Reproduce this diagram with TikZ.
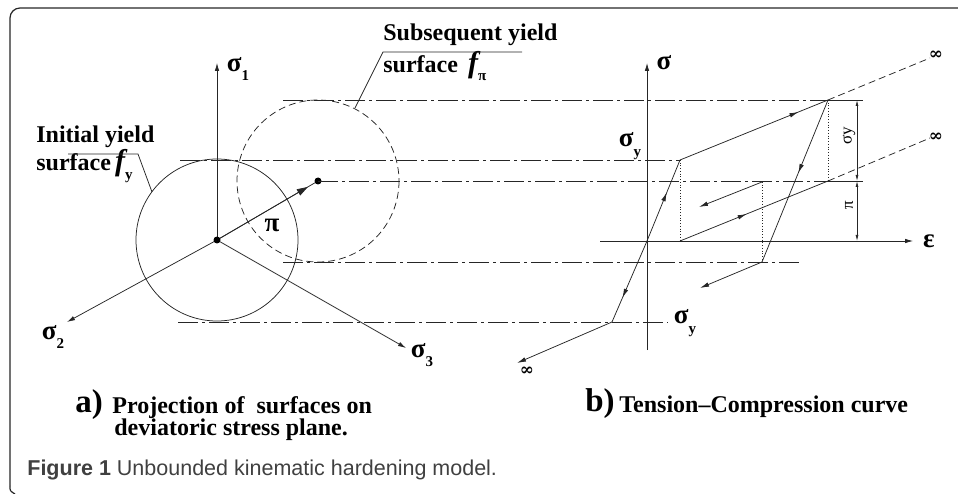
\documentclass[tikz,border=0pt]{standalone}
\usepackage{fontspec}
\setmainfont{Liberation Serif}
\setsansfont{Liberation Sans}
\newfontfamily\inffont{DejaVu Serif}
\usetikzlibrary{positioning, arrows.meta, calc, decorations.markings}

\newcommand{\subtxt}[1]{\raisebox{-0.35em}{\fontsize{15}{15}\selectfont #1}}

\begin{document}
\begin{tikzpicture}[
  x=1pt, y=-1pt,
  line width=0.75pt, draw=black!85,
  every node/.style={inner sep=0pt},
  lbl/.style={font=\fontsize{24}{26}\selectfont\bfseries},
  sym/.style={font=\fontsize{27}{27}\selectfont\bfseries},
  dimlbl/.style={font=\fontsize{17}{17}\selectfont, rotate=90},
  inf/.style={font=\inffont\fontsize{17}{17}\selectfont\bfseries},
  axis/.style={-{Latex[length=8pt,width=4.5pt]}},
  tip/.style={-{Latex[length=9pt,width=4.5pt]}},
  dashdot/.style={dash pattern=on 20pt off 4pt on 3pt off 4pt},
  midarrow/.style={postaction={decorate}, decoration={markings, mark=at position #1 with {\arrow{Latex[length=9pt,width=4.5pt]}}}},
  dimline/.style={{Latex[length=6pt,width=3pt]}-{Latex[length=6pt,width=3pt]}}
]
\useasboundingbox (0,0) rectangle (958,494);

% frame
\draw[line width=1.2pt, rounded corners=10pt] (958,8) -- (10,8) -- (10,486);
\draw[line width=1.2pt] (10,486) .. controls (10,491) .. (15,494);

% ---- a) deviatoric plane ----
\coordinate (O) at (217,240);
\coordinate (P) at (318,181);
\coordinate (s1end) at (217,63);
\coordinate (s2end) at (67,322);
\coordinate (s3end) at (406,348);

\draw (O) circle[radius=81];
\draw[dash pattern=on 7pt off 4pt] (P) circle[radius=81];

\draw[axis] (O) -- (s1end);
\draw[axis] (O) -- (s2end);
\draw[axis] (O) -- (s3end);
\draw (O) -- (P);
\draw[-{Triangle[length=11pt,width=7pt]}] (O) -- ($(O)!0.9!(P)$);
\fill (O) circle[radius=3.5];
\fill (P) circle[radius=3.5];

\node[sym] (s1lbl) at (238,69) {σ\subtxt{1}};
\node[sym] (s2lbl) at (53,337) {σ\subtxt{2}};
\node[sym] (s3lbl) at (422,355) {σ\subtxt{3}};
\node[sym] (pilbl) at (272,225) {π};

% labels of the surfaces
\node[lbl, anchor=west] (inilbl) at (36,137) {Initial yield};
\node[lbl, anchor=west] (inisurf) at (36,166) {surface\,{\fontsize{30}{30}\selectfont\itshape f}\subtxt{y}};
\draw (68,154) -- (138,154) -- (152,192);

\node[lbl, anchor=west] (sublbl) at (383,35) {Subsequent yield};
\node[lbl, anchor=west] (subsurf) at (383,66) {surface \,{\fontsize{30}{30}\selectfont\itshape f}\subtxt{π}};
\draw (522,52) -- (383,52) -- (355,108);

% ---- horizontal guide lines ----
\coordinate (gA1) at (283,100);  \coordinate (gA2) at (828,100);
\coordinate (gB1) at (180,160);  \coordinate (gB2) at (680,160);
\coordinate (gC1) at (318,181);  \coordinate (gC2) at (828,181);
\coordinate (gD1) at (283,262);  \coordinate (gD2) at (802,262);
\coordinate (gE1) at (178,322);  \coordinate (gE2) at (668,322);
\coordinate (tA) at (863,100);
\coordinate (tC) at (863,181);
\draw[dashdot] (gA1) -- (gA2);
\draw[dashdot] (gB1) -- (gB2);
\draw[dashdot] (gC1) -- (gC2);
\draw[dashdot] (gD1) -- (gD2);
\draw[dashdot] (gE1) -- (gE2);
\draw (gA2) -- (tA);
\draw (gC2) -- (tC);

% ---- b) tension-compression curve ----
\coordinate (E0) at (647,241);
\coordinate (sigtop) at (647,63);
\coordinate (sigbot) at (647,350);
\coordinate (epsl) at (600,241);
\coordinate (epsr) at (913,241);
\coordinate (A) at (680,160);
\coordinate (B) at (828,100);
\coordinate (C) at (762,262);
\coordinate (D) at (680,241);
\coordinate (F) at (828,181);
\coordinate (G) at (612,322);
\coordinate (Binf) at (930,58);
\coordinate (Finf) at (930,138);
\coordinate (Ctip) at (700,288);
\coordinate (Gtip) at (517,363);
\coordinate (inS) at (762,182);
\coordinate (inT) at (699,207);

\draw[axis] (sigbot) -- (sigtop);
\draw[axis] (epsl) -- (epsr);

\draw[midarrow=0.6] (E0) -- (A);
\draw[midarrow=0.8] (A) -- (B);
\draw[midarrow=0.45] (B) -- (C);
\draw[tip] (C) -- (Ctip);
\draw[midarrow=0.45] (D) -- (F);
\draw[tip] (inS) -- (inT);
\draw[midarrow=0.7] (E0) -- (G);
\draw[tip] (G) -- (Gtip);
\draw[dash pattern=on 7pt off 4pt] (B) -- (Binf);
\draw[dash pattern=on 7pt off 4pt] (F) -- (Finf);

\draw[dotted] (A) -- (D);
\draw[dotted] (inS) -- (C);
\draw[dotted] (B) -- (F);

% dimensions
\coordinate (dA) at (857,100);
\coordinate (dC) at (857,181);
\coordinate (dE) at (857,241);
\draw[dimline] (dA) -- (dC);
\draw[dimline] (dC) -- (dE);
\node[dimlbl] (sylbl) at (849,136) {σy};
\node[dimlbl] (pidim) at (849,205) {π};

\node[sym] (siglbl) at (664,63) {σ};
\node[sym] (epslbl) at (929,241) {ε};
\node[sym] (sytop) at (630,146) {σ\subtxt{y}};
\node[sym] (sybot) at (685,323) {σ\subtxt{y}};
\node[inf] (inf1) at (936,55) {∞};
\node[inf] (inf2) at (936,137) {∞};
\node[inf] (inf3) at (527,371) {∞};

% captions
\node[font=\fontsize{33}{33}\selectfont\bfseries] (capa) at (89,405) {a)};
\node[lbl, anchor=west] (capa1) at (112,408) {Projection of \ surfaces on};
\node[lbl, anchor=west] (capa2) at (114,430) {deviatoric stress plane.};
\node[font=\fontsize{33}{33}\selectfont\bfseries] (capb) at (600,404) {b)};
\node[lbl, anchor=west] (capb1) at (619,407) {Tension–Compression curve};

\node[anchor=west, font=\sffamily\fontsize{21.5}{22}\selectfont, text=black!75] (fig) at (27,470) {\textbf{Figure 1} Unbounded kinematic hardening model.};
\end{tikzpicture}
\end{document}
